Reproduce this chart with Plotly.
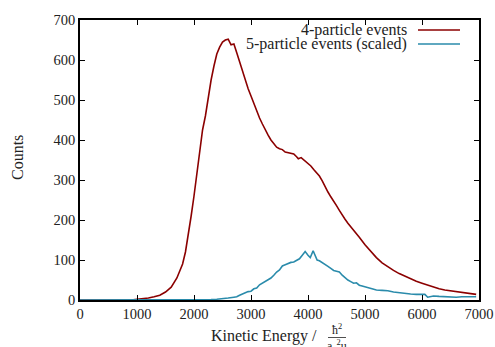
import plotly.graph_objects as go

# 4-particle events
e4 = [0, 500, 900, 1000, 1100, 1200, 1300, 1400, 1500, 1600, 1700, 1800, 1850, 1900, 1950,
      2000, 2050, 2100, 2150, 2200, 2250, 2300, 2350, 2400, 2450, 2500, 2550, 2600, 2650,
      2700, 2750, 2800, 2850, 2900, 2950, 3000, 3050, 3100, 3150, 3200, 3250, 3300, 3350,
      3400, 3450, 3500, 3550, 3600, 3650, 3700, 3750, 3800, 3830, 3880, 3950, 4000, 4050,
      4100, 4150, 4200, 4250, 4300, 4350, 4400, 4450, 4500, 4550, 4600, 4650, 4700, 4800,
      4900, 5000, 5100, 5200, 5300, 5400, 5500, 5600, 5700, 5800, 5900, 6000, 6100, 6200,
      6300, 6400, 6500, 6600, 6700, 6800, 6900, 6950]
c4 = [0, 0, 0, 2, 3, 5, 8, 12, 20, 32, 55, 90, 120, 160, 210,
      260, 320, 375, 425, 460, 508, 550, 585, 615, 632, 645, 650, 652, 638,
      640, 618, 595, 572, 550, 528, 510, 490, 475, 455, 440, 425, 412, 400,
      392, 382, 378, 376, 370, 368, 366, 365, 358, 353, 356, 348, 342, 335,
      326, 318, 310, 298, 283, 270, 258, 248, 236, 224, 212, 202, 192, 175,
      157, 138, 122, 106, 93, 83, 74, 66, 59, 53, 47, 42, 37, 32,
      28, 25, 23, 21, 19, 16, 14, 14]

# 5-particle events (scaled)
e5 = [0, 2200, 2300, 2400, 2500, 2600, 2700, 2750, 2800, 2850, 2900, 2950, 3000, 3050,
      3100, 3150, 3200, 3250, 3300, 3350, 3400, 3450, 3500, 3550, 3600, 3650, 3700, 3750,
      3800, 3850, 3900, 3950, 4000, 4040, 4090, 4130, 4160, 4200, 4250, 4300, 4350, 4400,
      4450, 4500, 4550, 4600, 4650, 4700, 4750, 4800, 4850, 4900, 4950, 5000, 5100, 5150,
      5200, 5300, 5400, 5500, 5600, 5700, 5800, 5900, 6000, 6050, 6100, 6150, 6200, 6300,
      6400, 6500, 6600, 6700, 6800, 6950]
c5 = [0, 0, 1, 2, 3, 5, 7, 8, 12, 16, 18, 21, 22, 28,
      30, 38, 42, 45, 50, 55, 62, 70, 75, 85, 88, 92, 94, 95,
      98, 103, 112, 121, 112, 106, 123, 108, 100, 98, 94, 90, 84, 79,
      74, 72, 70, 62, 55, 50, 46, 42, 43, 37, 35, 33, 28, 26,
      25, 24, 23, 20, 18, 17, 15, 14, 13, 14, 7, 9, 10, 9,
      8, 8, 7, 8, 8, 8]

x_ticks = [0, 1000, 2000, 3000, 4000, 5000, 6000, 7000]
y_ticks = [0, 100, 200, 300, 400, 500, 600, 700]
series_names = ["4-particle events", "5-particle events (scaled)"]
colors = ["#8b0000", "#2a8bab"]

FONT = "Liberation Serif, Times New Roman, serif"
TXT = "#222"
W, H = 495, 347
L, R, T, B = 80, 16, 20, 47

fig = go.Figure()
fig.add_trace(go.Scatter(x=e4, y=c4, mode="lines", name=series_names[0],
                         line=dict(color=colors[0], width=1.6)))
fig.add_trace(go.Scatter(x=e5, y=c5, mode="lines", name=series_names[1],
                         line=dict(color=colors[1], width=1.6)))

axis_common = dict(showline=True, linecolor="black", linewidth=1.5, mirror="allticks",
                   ticks="inside", ticklen=5, tickcolor="black", tickwidth=1,
                   showgrid=False, zeroline=False,
                   tickfont=dict(family=FONT, size=14.5, color=TXT))
fig.update_xaxes(range=[0, 7000], tickvals=x_ticks, ticktext=[str(v) for v in x_ticks],
                 **axis_common)
fig.update_yaxes(range=[0, 700], tickvals=y_ticks, ticktext=[str(v) for v in y_ticks],
                 **axis_common)

pw = W - L - R
ph = H - T - B

def px(xp):
    return (xp - L) / pw

def py(yp):
    return (H - B - yp) / ph

ann = []
ann.append(dict(text="Counts", xref="paper", yref="paper", x=px(17), y=py(158),
                textangle=-90, showarrow=False, xanchor="center", yanchor="middle",
                font=dict(family=FONT, size=16, color=TXT)))
ann.append(dict(text="Kinetic Energy /", xref="paper", yref="paper", x=px(319), y=py(336),
                showarrow=False, xanchor="right", yanchor="middle",
                font=dict(family=FONT, size=16, color=TXT)))
ann.append(dict(text="ħ<sup>2</sup>", xref="paper", yref="paper", x=px(337), y=py(329),
                showarrow=False, xanchor="center", yanchor="middle",
                font=dict(family=FONT, size=12, color=TXT)))
ann.append(dict(text="a<sub>0</sub><sup>2</sup>u", xref="paper", yref="paper", x=px(337), y=py(346),
                showarrow=False, xanchor="center", yanchor="middle",
                font=dict(family=FONT, size=12, color=TXT)))
shapes = [dict(type="line", xref="paper", yref="paper", x0=px(328), x1=px(346),
               y0=py(337.5), y1=py(337.5), line=dict(color=TXT, width=0.8))]

legend_y = [30, 44]
for name, col, yy in zip(series_names, colors, legend_y):
    ann.append(dict(text=name, xref="paper", yref="paper", x=px(409), y=py(yy),
                    showarrow=False, xanchor="right", yanchor="middle",
                    font=dict(family=FONT, size=16, color=TXT)))
    shapes.append(dict(type="line", xref="paper", yref="paper", x0=px(418), x1=px(460),
                       y0=py(yy), y1=py(yy), line=dict(color=col, width=1.6)))

fig.update_layout(width=W, height=H,
                  margin=dict(l=L, r=R, t=T, b=B, pad=0, autoexpand=False),
                  plot_bgcolor="white", paper_bgcolor="white", showlegend=False,
                  annotations=ann, shapes=shapes)

fig.write_html("out.html", config={"displayModeBar": False},
               post_script="document.body.style.margin='0';document.body.style.padding='0';")
